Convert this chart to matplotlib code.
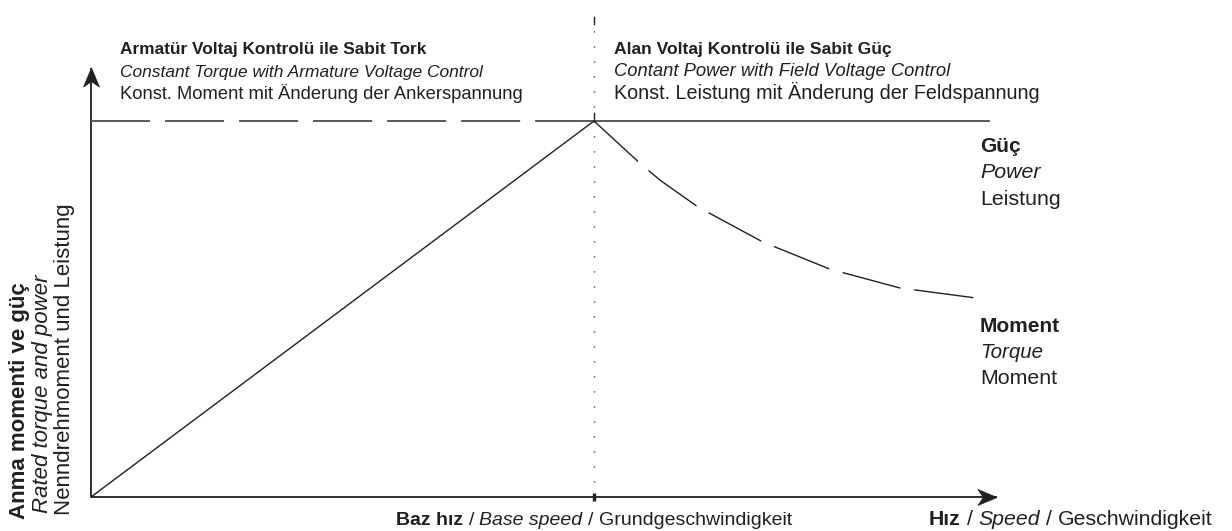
"""Torque / power envelope of a DC drive: armature vs. field voltage control."""
import matplotlib
matplotlib.use("Agg")
import matplotlib.pyplot as plt
from matplotlib.path import Path
from matplotlib.transforms import IdentityTransform

plt.rcParams["font.family"] = ["Liberation Sans", "DejaVu Sans"]
plt.rcParams["lines.scale_dashes"] = False

INK = "#231f20"
GREY = "#58595b"

# speed in units of base speed, torque / power in units of rated value
speed_armature = [0.0, 1.0]
power_armature = [0.0, 1.0]
torque_armature = [1.0, 1.0]

speed_field = [1.0, 1.091, 1.131, 1.207, 1.336, 1.469, 1.608, 1.761]
torque_field = [1.0, 0.888, 0.843, 0.771, 0.678, 0.606, 0.556, 0.529]
speed_power_field = [1.0, 1.785]
power_field = [1.0, 1.0]

base_speed = 1.0
speed_axis_end = 1.801
torque_axis_end = 1.141

heading_left = [
    ("Armatür Voltaj Kontrolü ile Sabit Tork", "bold", "normal"),
    ("Constant Torque with Armature Voltage Control", "normal", "italic"),
    ("Konst. Moment mit Änderung der Ankerspannung", "normal", "normal"),
]
heading_right = [
    ("Alan Voltaj Kontrolü ile Sabit Güç", "bold", "normal"),
    ("Contant Power with Field Voltage Control", "normal", "italic"),
    ("Konst. Leistung mit Änderung der Feldspannung", "normal", "normal"),
]
power_label = [("Güç", "bold", "normal"), ("Power", "normal", "italic"),
               ("Leistung", "normal", "normal")]
torque_label = [("Moment", "bold", "normal"), ("Torque", "normal", "italic"),
                ("Moment", "normal", "normal")]
ylabel_lines = [
    ("Anma momenti ve güç", "bold", "normal"),
    ("Rated torque and power", "normal", "italic"),
    ("Nenndrehmoment und Leistung", "normal", "normal"),
]
base_label = [("Baz hız", "bold", "normal"), ("/", "normal", "normal"),
              ("Base speed", "normal", "italic"), ("/", "normal", "normal"),
              ("Grundgeschwindigkeit", "normal", "normal")]
speed_label = [("Hız", "bold", "normal"), ("/", "normal", "normal"),
               ("Speed", "normal", "italic"), ("/", "normal", "normal"),
               ("Geschwindigkeit", "normal", "normal")]

W, H = 1232, 531
fig = plt.figure(figsize=(W / 100, H / 100), dpi=100)
ax = fig.add_axes([0, 0, 1, 1])
ax.axis("off")

# pixel frame: origin at (91, 497), base speed 503 px, rated level 376 px
ox, oy, sx, sy = 91, 497, 503, 376
ax.set_xlim(-ox / sx, (W - ox) / sx)
ax.set_ylim((oy - H) / sy, oy / sy)

px = IdentityTransform()


def img(x, y):
    """image pixel (y down) -> display pixel (y up)"""
    return x, H - y


# axes with notched arrow heads
head_r = Path([(0.5, 0), (-0.5, 0.42), (-0.22, 0), (-0.5, -0.42), (0.5, 0)],
              [Path.MOVETO, Path.LINETO, Path.LINETO, Path.LINETO, Path.CLOSEPOLY])
head_u = Path([(0, 0.5), (0.42, -0.5), (0, -0.22), (-0.42, -0.5), (0, 0.5)],
              [Path.MOVETO, Path.LINETO, Path.LINETO, Path.LINETO, Path.CLOSEPOLY])
ax.plot([0, speed_axis_end], [0, 0], color=INK, lw=1.3, solid_capstyle="butt")
ax.plot([0, 0], [0, torque_axis_end], color=INK, lw=1.3, solid_capstyle="butt")
ax.plot(speed_axis_end - 19 / sx / 2, 0, marker=head_r, ms=13.7, color=INK, mew=0.5)
ax.plot(0, torque_axis_end - 19 / sy / 2, marker=head_u, ms=13.7, color=INK, mew=0.5)

# rated level: dashed (constant torque) then solid (constant power)
ax.plot(speed_armature, torque_armature, color=GREY, lw=1.4,
        linestyle=(0, (42.5, 10.8)), dash_capstyle="butt")
ax.plot(speed_power_field, power_field, color=GREY, lw=1.4)

# power rising with speed, torque falling in the field weakening range
ax.plot(speed_armature, power_armature, color=INK, lw=1.0)
ax.plot(speed_field, torque_field, color=INK, lw=1.0,
        linestyle=(0, (43, 10)), dash_capstyle="butt")

# base speed marker
ax.plot([base_speed, base_speed], [0, 1.247], color=INK, lw=1.0,
        linestyle=(0, (0.8, 10)), dash_capstyle="butt")
ax.plot([base_speed, base_speed], [1.257, 1.277], color=INK, lw=1.0)
ax.plot([base_speed, base_speed], [1.0, 1.021], color=INK, lw=1.0)
ax.plot([base_speed, base_speed], [-0.011, 0.011], color=INK, lw=2.4,
        solid_capstyle="butt")


def stack(x, y0, lines, sizes, step):
    for i, ((s, w, st), size) in enumerate(zip(lines, sizes)):
        fig.text(*img(x, y0 + i * step), s, transform=px, fontsize=size,
                 fontweight=w, fontstyle=st, color=INK, va="baseline")


stack(120, 54, heading_left, [12.4, 12.5, 13.2], 22.5)
stack(614, 54, heading_right, [12.6, 13.2, 14.2], 22.5)
stack(980, 152, power_label, [15.0, 15.4, 15.4], 26.5)
stack(980, 332, torque_label, [15.0, 14.8, 15.4], 26.0)

for (s, w, st), xb, yb, size in zip(ylabel_lines, [25, 48, 70],
                                    [519, 513, 515], [16.0, 16.0, 16.0]):
    fig.text(*img(xb, yb), s, transform=px, fontsize=size, fontweight=w,
             fontstyle=st, color=INK, rotation=90, rotation_mode="anchor",
             ha="left", va="baseline")

renderer = fig.canvas.get_renderer()


def rich_line(x, y, pieces, size, ha="left"):
    objs = [fig.text(0, 0, s, transform=px, fontsize=size, fontweight=w,
                     fontstyle=st, color=INK, va="baseline")
            for s, w, st in pieces]
    probe = fig.text(0, 0, "x x", transform=px, fontsize=size)
    probe2 = fig.text(0, 0, "xx", transform=px, fontsize=size)
    gap = (probe.get_window_extent(renderer).width
           - probe2.get_window_extent(renderer).width)
    probe.remove()
    probe2.remove()
    widths = [t.get_window_extent(renderer).width for t in objs]
    total = sum(widths) + gap * (len(objs) - 1)
    cx = x - total / 2 if ha == "center" else x
    dx, dy = img(cx, y)
    for t, wd in zip(objs, widths):
        t.set_position((dx, dy))
        dx += wd + gap


rich_line(594, 525, base_label, 14.0, ha="center")
rich_line(929, 525, speed_label, 15.3)

fig.savefig("out.png", dpi=100)
